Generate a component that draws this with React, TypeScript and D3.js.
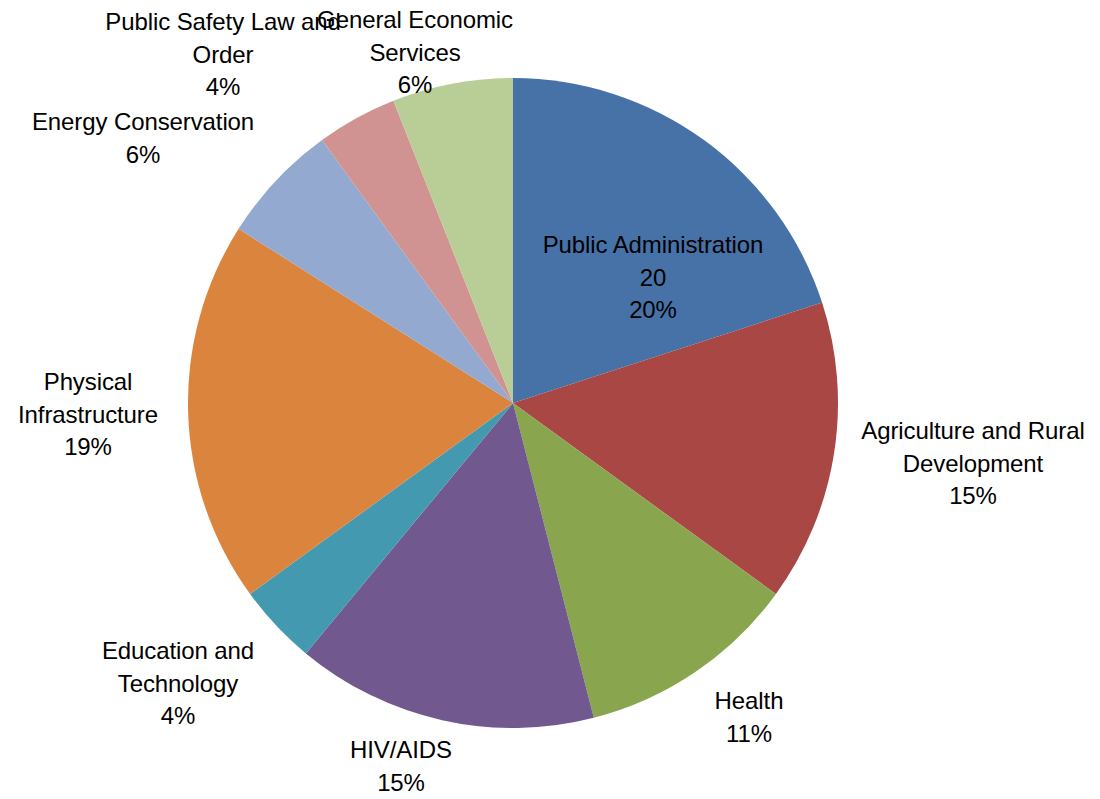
import { useRef, useEffect } from 'react';
import * as d3 from 'd3';

const categories = [
  'Public Administration',
  'Agriculture and Rural Development',
  'Health',
  'HIV/AIDS',
  'Education and Technology',
  'Physical Infrastructure',
  'Energy Conservation',
  'Public Safety Law and Order',
  'General Economic Services',
];
const values = [20, 15, 11, 15, 4, 19, 6, 4, 6];
// how each category label is wrapped in the chart
const labelLines = [
  ['Public Administration'],
  ['Agriculture and Rural', 'Development'],
  ['Health'],
  ['HIV/AIDS'],
  ['Education and', 'Technology'],
  ['Physical', 'Infrastructure'],
  ['Energy Conservation'],
  ['Public Safety Law and', 'Order'],
  ['General Economic', 'Services'],
];
const showValue = [true, false, false, false, false, false, false, false, false];
const colors = ['#4672A8', '#A84744', '#89A54E', '#71598F', '#4299B0', '#DB843D', '#93A9CF', '#D19392', '#B9CD96'];
// label block centre, relative to the pie centre
const labelPos: [number, number][] = [
  [140, -126], [460, 60], [236, 314], [-112, 363], [-335, 280],
  [-425, 11], [-370, -265], [-290, -349], [-98, -351],
];

export default function App() {
  const svgRef = useRef<SVGSVGElement>(null);

  useEffect(() => {
    const svg = d3.select(svgRef.current);
    svg.selectAll('*').remove();

    const W = 1100, H = 799;
    const cx = 513, cy = 403, r = 325;
    const total = d3.sum(values);

    const g = svg.append('g').attr('transform', `translate(${cx},${cy})`);

    const pie = d3.pie<number>().sort(null).value(d => d);
    const arcs = pie(values);
    const arc = d3.arc<d3.PieArcDatum<number>>().innerRadius(0).outerRadius(r);

    g.selectAll('path')
      .data(arcs)
      .join('path')
      .attr('d', arc)
      .attr('fill', (_, i) => colors[i]);

    const lineH = 32.5;
    arcs.forEach((a, i) => {
      const lines = [...labelLines[i]];
      if (showValue[i]) lines.push(String(values[i]));
      lines.push(`${Math.round((values[i] / total) * 100)}%`);
      const [lx, ly] = labelPos[i];
      const top = ly - ((lines.length - 1) * lineH) / 2;
      const t = g.append('text')
        .attr('text-anchor', 'middle')
        .attr('font-family', '"Liberation Sans", Arial, sans-serif')
        .attr('font-size', 24)
        .attr('letter-spacing', -0.1)
        .attr('fill', '#000');
      lines.forEach((s, k) => {
        t.append('tspan')
          .attr('x', lx)
          .attr('y', top + k * lineH + 8.5)
          .text(s);
      });
      t.append('title').text(categories[i]);
    });

    svg.attr('width', W).attr('height', H);
  }, []);

  return (
    <svg ref={svgRef} width={1100} height={799}
      style={{ position: 'absolute', left: 0, top: 0, background: '#fff' }} />
  );
}
